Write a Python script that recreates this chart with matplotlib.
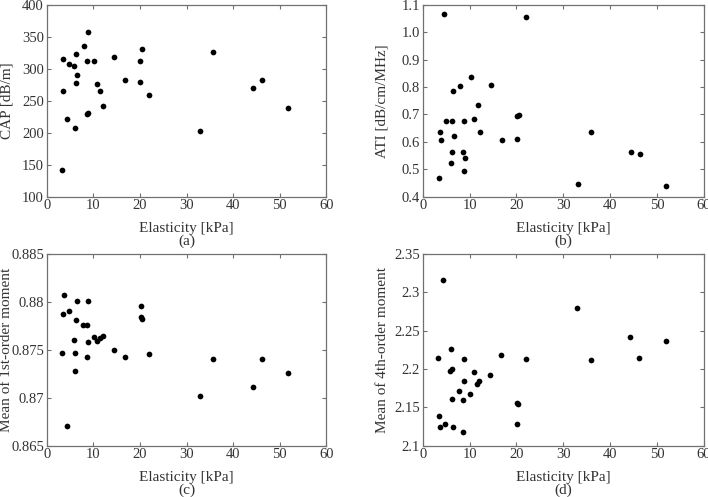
import matplotlib
matplotlib.use("Agg")
import matplotlib.pyplot as plt

plt.rcParams['font.family'] = ['Liberation Serif', 'DejaVu Serif']

# Panel (a): CAP
xa = [3.6, 3.4, 3.3, 4.4, 4.8, 5.9, 6.2, 6.2, 6.5, 6.1, 7.9, 8.9, 8.75, 8.6, 8.8,
      10.25, 10.9, 11.5, 12.0, 14.5, 16.8, 20.1, 20.1, 20.4, 21.9, 33.0, 35.7, 44.2, 46.1, 51.8]
cap = [316, 265, 142, 221, 307, 304, 324, 278, 291, 208, 335, 358, 312, 229, 231,
       312, 277, 265, 241, 318, 282, 280, 313, 331, 259, 203, 326, 270, 282, 239]

# Panel (b): ATI
xb = [4.5, 22.0, 3.6, 3.9, 3.5, 4.9, 6.2, 6.4, 6.6, 6.3, 6.0, 8.0, 8.7, 8.9, 9.0, 8.9,
      10.4, 11.0, 11.7, 12.2, 14.6, 16.9, 20.2, 20.2, 20.5, 33.1, 35.9, 44.4, 46.3, 52.0]
ati = [1.066, 1.056, 0.634, 0.606, 0.466, 0.676, 0.675, 0.786, 0.620, 0.564, 0.524, 0.804, 0.564,
       0.676, 0.542, 0.494, 0.835, 0.683, 0.734, 0.635, 0.809, 0.606, 0.609, 0.694, 0.697,
       0.447, 0.637, 0.562, 0.555, 0.438]

# Panel (c): mean of 1st-order moment
xc = [3.66, 3.44, 3.37, 4.37, 4.8, 6.45, 6.24, 5.88, 6.16, 6.1, 7.81, 8.6, 8.82, 8.9, 8.75,
      10.25, 10.9, 11.54, 12.04, 14.48, 16.77, 20.14, 20.14, 20.36, 21.86, 32.97, 35.7, 44.2, 46.1, 51.8]
m1 = [0.88072, 0.87874, 0.87467, 0.86709, 0.87905, 0.88006, 0.87815, 0.87606, 0.87470, 0.87279,
      0.87756, 0.87759, 0.88006, 0.87582, 0.87429, 0.87630, 0.87596, 0.87623, 0.87644, 0.87502,
      0.87429, 0.87957, 0.87839, 0.87822, 0.87456, 0.87015, 0.87408, 0.87109, 0.87408, 0.87258]

# Panel (d): mean of 4th-order moment
xd = [4.31, 3.3, 3.45, 3.59, 4.74, 6.1, 6.17, 5.89, 6.25, 6.46, 7.82, 8.54, 8.76, 8.83, 8.69,
      10.12, 10.84, 11.48, 12.06, 14.43, 16.72, 20.1, 20.3, 20.17, 21.96, 33.0, 35.9, 44.3, 46.15, 51.9]
m4 = [2.3155, 2.2145, 2.1393, 2.124, 2.1277, 2.2258, 2.2000, 2.197, 2.1607, 2.124, 2.1712, 2.1598,
      2.2132, 2.1844, 2.1184, 2.1673, 2.1966, 2.1800, 2.1844, 2.1918, 2.2185, 2.1555, 2.1546,
      2.1277, 2.2132, 2.2796, 2.2123, 2.2420, 2.2141, 2.2364]

x_ticks = [0, 10, 20, 30, 40, 50, 60]
panels = [
    (xa, cap, "CAP [dB/m]", (100, 400), [100, 150, 200, 250, 300, 350, 400],
     ["100", "150", "200", "250", "300", "350", "400"], "(a)"),
    (xb, ati, "ATI [dB/cm/MHz]", (0.4, 1.1), [0.4, 0.5, 0.6, 0.7, 0.8, 0.9, 1.0, 1.1],
     ["0.4", "0.5", "0.6", "0.7", "0.8", "0.9", "1.0", "1.1"], "(b)"),
    (xc, m1, "Mean of 1st-order moment", (0.865, 0.885), [0.865, 0.87, 0.875, 0.88, 0.885],
     ["0.865", "0.87", "0.875", "0.88", "0.885"], "(c)"),
    (xd, m4, "Mean of 4th-order moment", (2.1, 2.35), [2.1, 2.15, 2.2, 2.25, 2.3, 2.35],
     ["2.1", "2.15", "2.2", "2.25", "2.3", "2.35"], "(d)"),
]

W, H = 708, 497
fig = plt.figure(figsize=(W / 100, H / 100), dpi=100)
rects = [
    (46.7, 5, 326.3, 196.5),
    (422.7, 5, 704.0, 196.5),
    (46.7, 254, 326.3, 445.7),
    (422.7, 254, 704.0, 445.7),
]
text_c = '#333333'
spine_c = '#707070'
for (x, y, ylab, ylim, yt, ytl, tag), (l, t, r, b) in zip(panels, rects):
    ax = fig.add_axes([l / W, 1 - b / H, (r - l) / W, (b - t) / H])
    ax.scatter(x, y, s=17, c='black', zorder=3, linewidths=0)
    ax.set_xlim(0, 60)
    ax.set_ylim(*ylim)
    ax.set_xticks(x_ticks)
    ax.set_yticks(yt)
    ax.set_yticklabels(ytl)
    ax.tick_params(direction='in', top=True, right=True, length=3, width=0.8,
                   colors=spine_c, labelcolor=text_c, labelsize=10.5, pad=2)
    for sp in ax.spines.values():
        sp.set_color(spine_c)
        sp.set_linewidth(0.9)
    ax.set_xlabel("Elasticity [kPa]" + "\n" + tag, fontsize=11, color=text_c,
                  labelpad=7, linespacing=0.95)
    ax.set_ylabel(ylab, fontsize=11, color=text_c)
    ax.yaxis.set_label_coords(-0.12, 0.5)

fig.savefig("out.png", dpi=100)
